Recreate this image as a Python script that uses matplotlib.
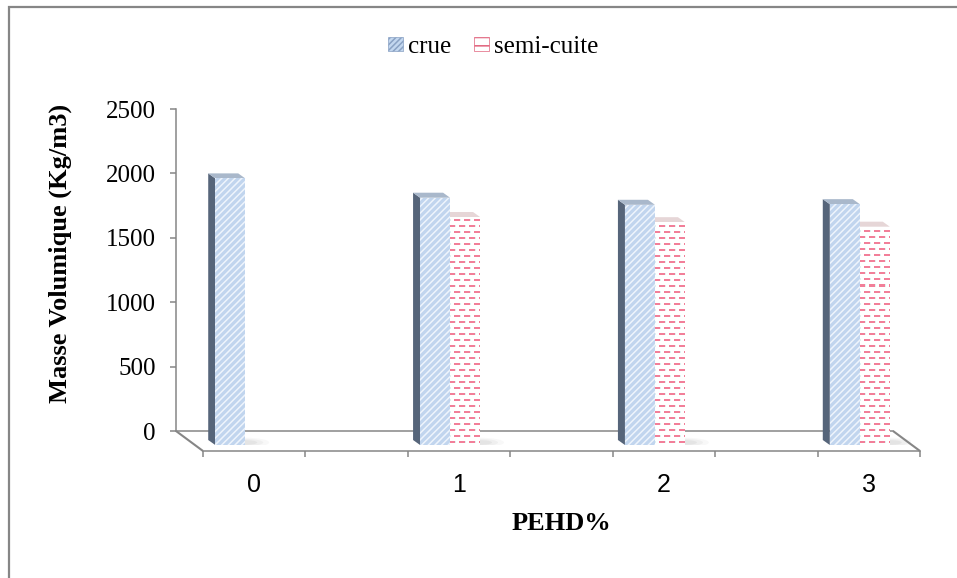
import numpy as np
import matplotlib.pyplot as plt
from matplotlib.patches import Polygon, Patch, Rectangle, Ellipse
from matplotlib.lines import Line2D

plt.rcParams['font.family'] = ['Liberation Serif', 'DejaVu Serif']
plt.rcParams['hatch.linewidth'] = 1.1

# masse volumique des briques (Kg/m3) selon le taux de PEHD
pehd = ['0', '1', '2', '3']
crue = [2070, 1920, 1865, 1870]
semi_cuite = [np.nan, 1770, 1730, 1695]
yticks = [0, 500, 1000, 1500, 2000, 2500]

W, H = 957, 578
GRAY = '#868686'
NSLOT = 7                  # empty slots between the PEHD groups, like the excel sheet
slots = [0, 2, 4, 6]
AX_W, AX_H = 717, 322      # plot box in pixels
YMAX = 2500

fig = plt.figure(figsize=(W / 100, H / 100), dpi=100)


def fbox(left, base, width, height):
    # pixel box -> figure fraction, base is the bottom edge measured from the top
    return [left / W, 1 - base / H, width / W, height / H]


def fline(x0, y0, x1, y1):
    fig.add_artist(Line2D([x0 / W, x1 / W], [1 - y0 / H, 1 - y1 / H],
                          color=GRAY, lw=1.5, solid_capstyle='butt'))


# outer chart border
fig.add_artist(Rectangle((9 / W, -0.05), 1.1, 1 - 7 / H + 0.05, transform=fig.transFigure,
                         fill=False, ec=GRAY, lw=1.6))

# back wall: value axis and rear edge of the floor
back = fig.add_axes(fbox(176, 431, AX_W, AX_H))
back.set_xlim(-0.5, NSLOT - 0.5)
back.set_ylim(0, YMAX)
back.set_facecolor('none')
for s in ['top', 'right']:
    back.spines[s].set_visible(False)
for s in ['left', 'bottom']:
    back.spines[s].set_color(GRAY)
    back.spines[s].set_linewidth(1.1)
back.set_xticks([])
back.set_yticks(yticks)
back.tick_params(axis='y', direction='out', length=4.5, width=1.1, color=GRAY,
                 labelsize=18, pad=10)

# front edge of the floor with category ticks
front = fig.add_axes(fbox(203, 451, AX_W, 1))
front.set_xlim(-0.5, NSLOT - 0.5)
front.set_facecolor('none')
for s in ['top', 'right', 'left']:
    front.spines[s].set_visible(False)
front.spines['bottom'].set_color(GRAY)
front.spines['bottom'].set_linewidth(1.1)
front.set_yticks([])
front.set_xticks(np.arange(-0.5, NSLOT, 1.0))
front.set_xticklabels([])
front.set_xticks(slots, minor=True)
front.set_xticklabels(pehd, minor=True, family='Liberation Sans', fontsize=18)
front.tick_params(axis='x', which='major', direction='out', length=4.5, width=1.1, color=GRAY)
front.tick_params(axis='x', which='minor', length=0, pad=16)

# floor sides
fline(176, 431, 203, 451)
fline(893, 431, 920, 451)

# bars sit half way into the floor
ax = fig.add_axes(fbox(194, 445, AX_W, AX_H))
ax.set_facecolor('none')
ax.axis('off')

slot_px = AX_W / NSLOT
px_y = AX_H / YMAX
bw = 30 / slot_px
dx = -7 / slot_px
dy = 5 / px_y

# dashed brick fill for the semi-cuite bars, on the plot pixel grid
rr, cc = np.mgrid[0:AX_H, 0:AX_W]
tex_semi = np.ones((AX_H, AX_W, 3))
band = (rr % 6) < 2
shift = ((rr // 6) % 2) * 5
tex_semi[band & (((cc + shift) % 10) < 6)] = [0.95, 0.50, 0.60]
tex_semi[band & (((cc + shift) % 10) == 6)] = [0.88, 0.95, 0.95]

ext = (-0.5, NSLOT - 0.5, 0, YMAX)


def shadow(x0):
    # soft grey blot on the floor, right of the bar foot
    for k, a in [(1.6, 0.05), (1.2, 0.07), (0.8, 0.09)]:
        ax.add_patch(Ellipse((x0 + bw * 1.0, dy * 0.5), bw * k, dy * 1.2 * k,
                             fc='#808080', ec='none', alpha=a, zorder=1))


def draw_bar(x0, v, side_c, top_c, **face):
    ax.add_patch(Polygon([(x0, 0), (x0, v), (x0 + dx, v + dy), (x0 + dx, dy)],
                         closed=True, fc=side_c, ec='none', zorder=2))
    ax.add_patch(Polygon([(x0, v), (x0 + bw, v), (x0 + bw + dx, v + dy), (x0 + dx, v + dy)],
                         closed=True, fc=top_c, ec='none', zorder=2))
    rect = Rectangle((x0, 0), bw, v, zorder=3, **face)
    ax.add_patch(rect)
    return rect


for s, c, sc in zip(slots, crue, semi_cuite):
    if not np.isnan(sc):
        shadow(s)
        rect = draw_bar(s, sc, '#d8c4c6', '#e6d6d7', fc='none', ec='none')
        im = ax.imshow(tex_semi, extent=ext, origin='upper', interpolation='nearest',
                       aspect='auto', zorder=3)
        im.set_clip_path(rect)
    else:
        shadow(s - bw)
    draw_bar(s - bw, c, '#56657a', '#a9b8cb', fc='#c1d5ee', ec='#eef4fc',
             hatch='/////', lw=0)

ax.set_xlim(-0.5, NSLOT - 0.5)
ax.set_ylim(0, YMAX)

# axis titles
fig.text(60 / W, 1 - 253 / H, 'Masse Volumique (Kg/m3)', rotation=90, ha='center',
         va='center', fontsize=19, fontweight='bold')
fig.text(561 / W, 1 - 523 / H, 'PEHD%', ha='center', va='center', fontsize=19,
         fontweight='bold')

handles = [Patch(fc='#c3d7ef', ec='#8aa2c4', hatch='//////', lw=0.5),
           Patch(fc='white', ec='#e0607a', hatch='--', lw=0.5)]
fig.legend(handles, ['crue', 'semi-cuite'], loc='center', bbox_to_anchor=(493 / W, 1 - 47 / H),
           ncol=2, frameon=False, fontsize=18, handlelength=0.6, handleheight=0.5,
           handletextpad=0.2, columnspacing=0.9)

fig.savefig('out.png', dpi=100)
